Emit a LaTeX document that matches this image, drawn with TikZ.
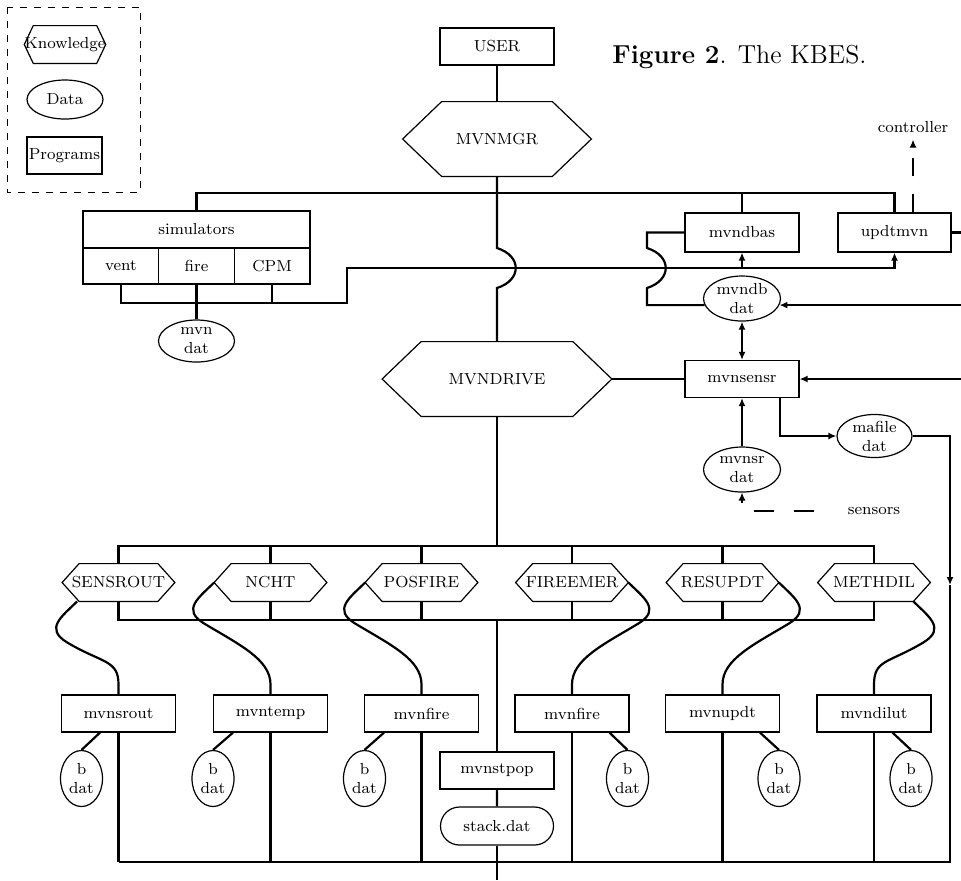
\documentclass[tikz,border=0pt]{standalone}
\usetikzlibrary{arrows.meta,shapes.geometric,shapes.misc}
\tikzset{
  prog/.style={draw, line width=0.6pt, minimum width=57pt, minimum height=18.5pt, inner sep=0pt, font=\footnotesize},
  datbox/.style={draw, ellipse, line width=0.6pt, inner sep=0pt, align=center, font=\footnotesize},
  hexbox/.style={minimum width=56pt, minimum height=18.5pt, inner sep=0pt, font=\footnotesize},
  link/.style={line width=1.1pt},
  lbl/.style={font=\footnotesize}
}
\begin{document}
\begin{tikzpicture}[x=0.5pt,y=0.5pt,>={Latex[length=4pt,width=3.5pt]}]
\useasboundingbox (0,0) rectangle (961,-880);
% legend
\draw[dash pattern=on 3.5pt off 3.5pt,line width=0.5pt] (7,-7) rectangle (140,-192);
\node[hexbox,minimum width=38pt] (know) at (65,-44.5) {Knowledge};
\node[datbox,minimum width=38pt,minimum height=19.5pt] (data) at (65,-99.5) {Data};
\node[prog,minimum width=37.5pt] (progs) at (64.5,-155.5) {Programs};
% top
\node[prog] (user) at (497,-46.5) {USER};
\node[hexbox,minimum width=94pt,minimum height=37pt] (mvnmgr) at (497,-139) {MVNMGR};
\node[anchor=base west,font=\fontsize{13}{15}\selectfont,inner sep=0pt] (title) at (612,-63)
  {\textbf{Figure 2}. The KBES.};
% simulators
\node[prog,minimum width=113.5pt] (sim) at (196.5,-229.5) {simulators};
\node[prog,minimum width=37.83pt,minimum height=18pt] (vent) at (120.83,-266) {vent};
\node[prog,minimum width=37.83pt,minimum height=18pt] (fire) at (196.5,-266) {fire};
\node[prog,minimum width=37.83pt,minimum height=18pt] (cpm) at (272.17,-266) {CPM};
\node[datbox,minimum width=38pt,minimum height=21pt] (mvndat) at (196.5,-341) {mvn\\dat};
% data base and sensors
\node[prog,minimum height=19.5pt] (mvndbas) at (742,-232.5) {mvndbas};
\node[prog,minimum width=56.5pt,minimum height=19.5pt] (updtmvn) at (894.5,-232.5) {updtmvn};
\node[lbl] (ctl) at (913,-127) {controller};
\node[datbox,minimum width=38.5pt,minimum height=22.5pt] (mvndb) at (742,-298.5) {mvndb\\dat};
\node[prog] (mvnsensr) at (742,-379) {mvnsensr};
\node[hexbox,minimum width=114.5pt,minimum height=37pt] (mvndrive) at (497,-379) {MVNDRIVE};
\node[datbox,minimum width=38.5pt,minimum height=22.5pt] (mvnsr) at (742,-469.5) {mvnsr\\dat};
\node[datbox,minimum width=37.5pt,minimum height=19pt] (mafile) at (874.5,-436) {mafile\\dat};
\node[lbl] (sensors) at (874,-511) {sensors};
\coordinate (sensl) at ([xshift=-3.5pt]sensors.west);
% bottom row
\foreach \n/\t/\x in {sensrout/SENSROUT/118.5, ncht/NCHT/270.5, posfire/POSFIRE/421.5,
    fireemer/FIREEMER/572, resupdt/RESUPDT/722.5, methdil/METHDIL/874}
  \node[hexbox] (\n) at (\x,-582.5) {\t};
\foreach \n/\t/\x in {mvnsrout/mvnsrout/118.5, mvntemp/mvntemp/270.5, mvnfire/mvnfire/421.5,
    mvnfireb/mvnfire/572, mvnupdt/mvnupdt/722.5, mvndilut/mvndilut/874}
  \node[prog] (\n) at (\x,-713.5) {\t};
\foreach \n/\x in {bdat1/81.5, bdat2/213, bdat3/364.5, bdat4/627.5, bdat5/779, bdat6/911}
  \node[datbox,minimum width=21pt,minimum height=28pt] (\n) at (\x,-778.5) {b\\dat};
\node[prog] (mvnstpop) at (497,-770.5) {mvnstpop};
\node[draw,rounded rectangle,line width=0.6pt,minimum width=56.5pt,minimum height=19pt,
  inner sep=0pt,font=\footnotesize] (stack) at (497,-826) {stack.dat};
% hexagon outlines
\foreach \n/\e in {know/4.5pt, mvnmgr/19.5pt, mvndrive/19.5pt, sensrout/8.5pt, ncht/8.5pt,
    posfire/8.5pt, fireemer/8.5pt, resupdt/8.5pt, methdil/8.5pt}
  \draw[line width=0.6pt] (\n.west) -- ([xshift=\e]\n.north west) -- ([xshift=-\e]\n.north east)
    -- (\n.east) -- ([xshift=-\e]\n.south east) -- ([xshift=\e]\n.south west) -- cycle;
% bus levels
\coordinate (bus1) at (0,-193);
\coordinate (knee) at (347,-268);
\coordinate (bus3) at (0,-303);
\coordinate (jx) at (647,0);
\coordinate (redge) at (961,0);
\coordinate (upbus) at (0,-546);
\coordinate (lowbus) at (0,-620);
\coordinate (rarr) at (950,-585);
\coordinate (rbot) at (0,-862);
\coordinate (bot) at (0,-880);
% upper part
\draw[link] (user) -- (mvnmgr);
\draw[link] (mvnmgr.south) -- ([yshift=10pt]mvnmgr.south |- knee)
  .. controls +(25,-8) and +(25,8) .. ([yshift=-10pt]mvnmgr.south |- knee) -- (mvndrive.north);
\draw[link] (sim.north) |- (updtmvn.north |- bus1) -- (updtmvn.north);
\draw[link] (mvndbas.north) -- (mvndbas.north |- bus1);
\draw[link,->] (vent.south) |- (knee |- bus3) -- (knee) -- (updtmvn.south |- knee) -- (updtmvn.south);
\draw[link,->] (mvndbas.south |- knee) -- (mvndbas.south);
\draw[link] (cpm.south) -- (cpm.south |- bus3);
\draw[link] (fire.south) -- (mvndat.north);
\draw[link] (mvndbas.west) -| ([yshift=10pt]jx |- knee)
  .. controls +(25,-8) and +(25,8) .. ([yshift=-10pt]jx |- knee) |- (mvndb.190);
\draw[link] (updtmvn.east) -- (redge |- updtmvn.east);
\draw[link,->] (redge |- mvndb.-10) -- (mvndb.-10);
\draw[link,<->] (mvndb) -- (mvnsensr);
\draw[link,->] (redge |- mvnsensr.east) -- (mvnsensr.east);
\draw[link] (mvndrive.east) -- (mvnsensr.west);
\draw[link,->] (mvnsr) -- (mvnsensr);
\draw[line width=0.6pt,dash pattern=on 10pt off 10pt,dash phase=10pt,->] (sensl) -| (mvnsr.south);
\draw[line width=0.6pt,dash pattern=on 9pt off 9pt,->] (updtmvn.north -| ctl) -- (ctl.south);
\draw[link,->] ([xshift=19pt]mvnsensr.south) |- (mafile.west);
\draw[link,->] (mafile.east) -| (rarr);
\draw[link] (rarr) |- (mvnsrout.south |- rbot);
% lower part
\draw[link] (mvndrive.south) -- (mvndrive.south |- upbus);
\draw[link] (sensrout.north) |- (methdil.north |- upbus) -- (methdil.north);
\draw[link] (sensrout.south) |- (methdil.south |- lowbus) -- (methdil.south);
\foreach \n in {ncht,posfire,fireemer,resupdt}{
  \draw[link] (\n.north) -- (\n.north |- upbus);
  \draw[link] (\n.south) -- (\n.south |- lowbus);
}
\draw[link] (mvnstpop.north |- lowbus) -- (mvnstpop.north);
\draw[link] (mvnstpop) -- (stack);
\draw[link] (stack.south) -- (stack.south |- bot);
\foreach \h/\b/\an/\sh/\s in {sensrout/mvnsrout/south west/7.5pt/-1, ncht/mvntemp/west/0pt/-1,
    posfire/mvnfire/west/0pt/-1, fireemer/mvnfireb/east/0pt/1, resupdt/mvnupdt/east/0pt/1,
    methdil/mvndilut/south east/-8.5pt/1}
  \draw[link] ([xshift=\sh]\h.\an) .. controls +({15*\s},-15) and +({23*\s},14) .. ++({10*\s},-41)
    .. controls +({-35*\s},-21) and +(0,25) .. ([yshift=5pt]\b.north) -- (\b.north);
\foreach \b/\d/\o in {mvnsrout/bdat1/-9.25pt, mvntemp/bdat2/-18.75pt, mvnfire/bdat3/-18.75pt,
    mvnfireb/bdat4/18.75pt, mvnupdt/bdat5/18.75pt, mvndilut/bdat6/9.25pt}
  \draw[link] ([xshift=\o]\b.south) -- (\d.north);
\foreach \b in {mvnsrout,mvntemp,mvnfire,mvnfireb,mvnupdt,mvndilut}
  \draw[link] (\b.south) -- (\b.south |- rbot);
\end{tikzpicture}
\end{document}
